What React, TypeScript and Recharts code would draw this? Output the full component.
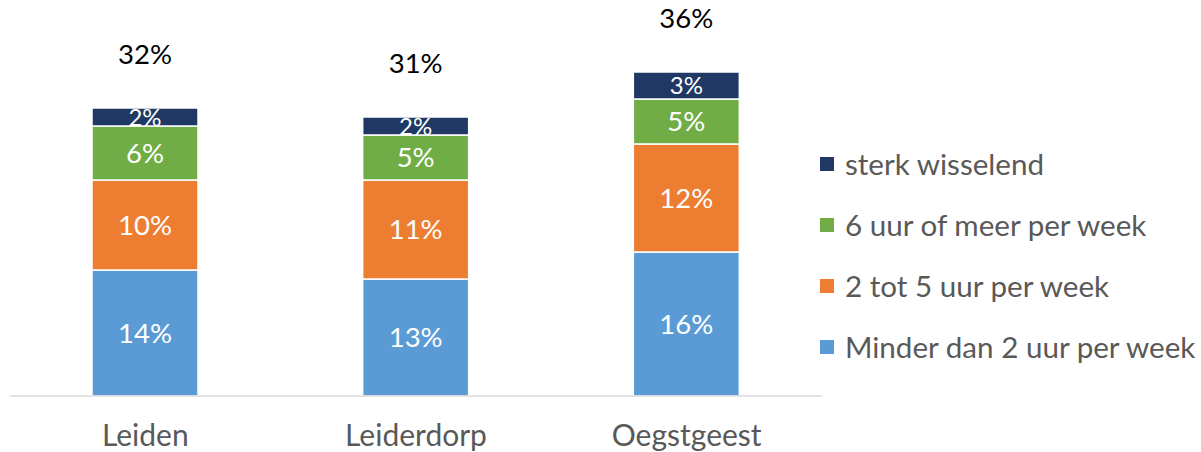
import React from 'react';
import { BarChart, Bar, XAxis, YAxis, LabelList } from 'recharts';

const categories = ['Leiden', 'Leiderdorp', 'Oegstgeest'];
const minderDan2 = [14, 13, 16];
const tot2tot5 = [10, 11, 12];
const zesOfMeer = [6, 5, 5];
const sterkWisselend = [2, 2, 3];
const totals = [32, 31, 36];

const seriesNames = {
  a: 'Minder dan 2 uur per week',
  b: '2 tot 5 uur per week',
  c: '6 uur of meer per week',
  d: 'sterk wisselend',
};

const colors = { a: '#5B9BD5', b: '#ED7D31', c: '#70AD47', d: '#203864' };

const data = categories.map((name, i) => ({
  name,
  a: minderDan2[i],
  b: tot2tot5[i],
  c: zesOfMeer[i],
  d: sterkWisselend[i],
  total: totals[i],
}));

const FONT = 'Lato, "Open Sans", sans-serif';

const pct = (v: any) => `${v}%`;

const TotalLabel = (props: any) => {
  const { x, y, width, value } = props;
  return (
    <text x={x + width / 2} y={y - 44} textAnchor="middle" fill="#000" fontSize={27.5} fontFamily={FONT}>
      {value}%
    </text>
  );
};

const Tick = (props: any) => {
  const { x, y, payload } = props;
  return (
    <text x={x} y={y + 50} textAnchor="middle" fill="#595959" fontSize={30} fontFamily={FONT}>
      {payload.value}
    </text>
  );
};

const legendOrder: Array<'d' | 'c' | 'b' | 'a'> = ['d', 'c', 'b', 'a'];

const renderLegend = () => (
  <div style={{ fontFamily: FONT }}>
    {legendOrder.map((k) => (
      <div key={k} style={{ display: 'flex', alignItems: 'center', height: 61 }}>
        <div style={{ width: 14, height: 14, background: colors[k], marginRight: 11 }} />
        <span style={{ fontSize: 29.6, color: '#595959', whiteSpace: 'nowrap' }}>{seriesNames[k]}</span>
      </div>
    ))}
  </div>
);

export default function App() {
  return (
    <div style={{ position: 'absolute', left: 0, top: 0, width: 1201, height: 452, background: '#fff' }}>
      <BarChart
        width={1201}
        height={452}
        data={data}
        margin={{ top: 36, right: 379, left: 10, bottom: 0 }}
      >
        <XAxis
          dataKey="name"
          axisLine={{ stroke: '#D9D9D9', strokeWidth: 1.5 }}
          tickLine={false}
          tickSize={0}
          tickMargin={0}
          height={56}
          tick={<Tick />}
          interval={0}
        />
        <YAxis hide domain={[0, 40]} />
        <Bar dataKey="a" stackId="s" fill={colors.a} stroke="#fff" strokeWidth={1.5} barSize={106} isAnimationActive={false}>
          <LabelList dataKey="a" position="center" fill="#fff" fontSize={27.5} fontFamily={FONT} formatter={pct} />
        </Bar>
        <Bar dataKey="b" stackId="s" fill={colors.b} stroke="#fff" strokeWidth={1.5} barSize={106} isAnimationActive={false}>
          <LabelList dataKey="b" position="center" fill="#fff" fontSize={27.5} fontFamily={FONT} formatter={pct} />
        </Bar>
        <Bar dataKey="c" stackId="s" fill={colors.c} stroke="#fff" strokeWidth={1.5} barSize={106} isAnimationActive={false}>
          <LabelList dataKey="c" position="center" fill="#fff" fontSize={27.5} fontFamily={FONT} formatter={pct} />
        </Bar>
        <Bar dataKey="d" stackId="s" fill={colors.d} stroke="#fff" strokeWidth={1.5} barSize={106} isAnimationActive={false}>
          <LabelList dataKey="d" position="center" fill="#fff" fontSize={24} fontFamily={FONT} formatter={pct} />
          <LabelList dataKey="total" content={<TotalLabel />} />
        </Bar>
      </BarChart>
      <div style={{ position: 'absolute', left: 820, top: 133 }}>{renderLegend()}</div>
    </div>
  );
}
